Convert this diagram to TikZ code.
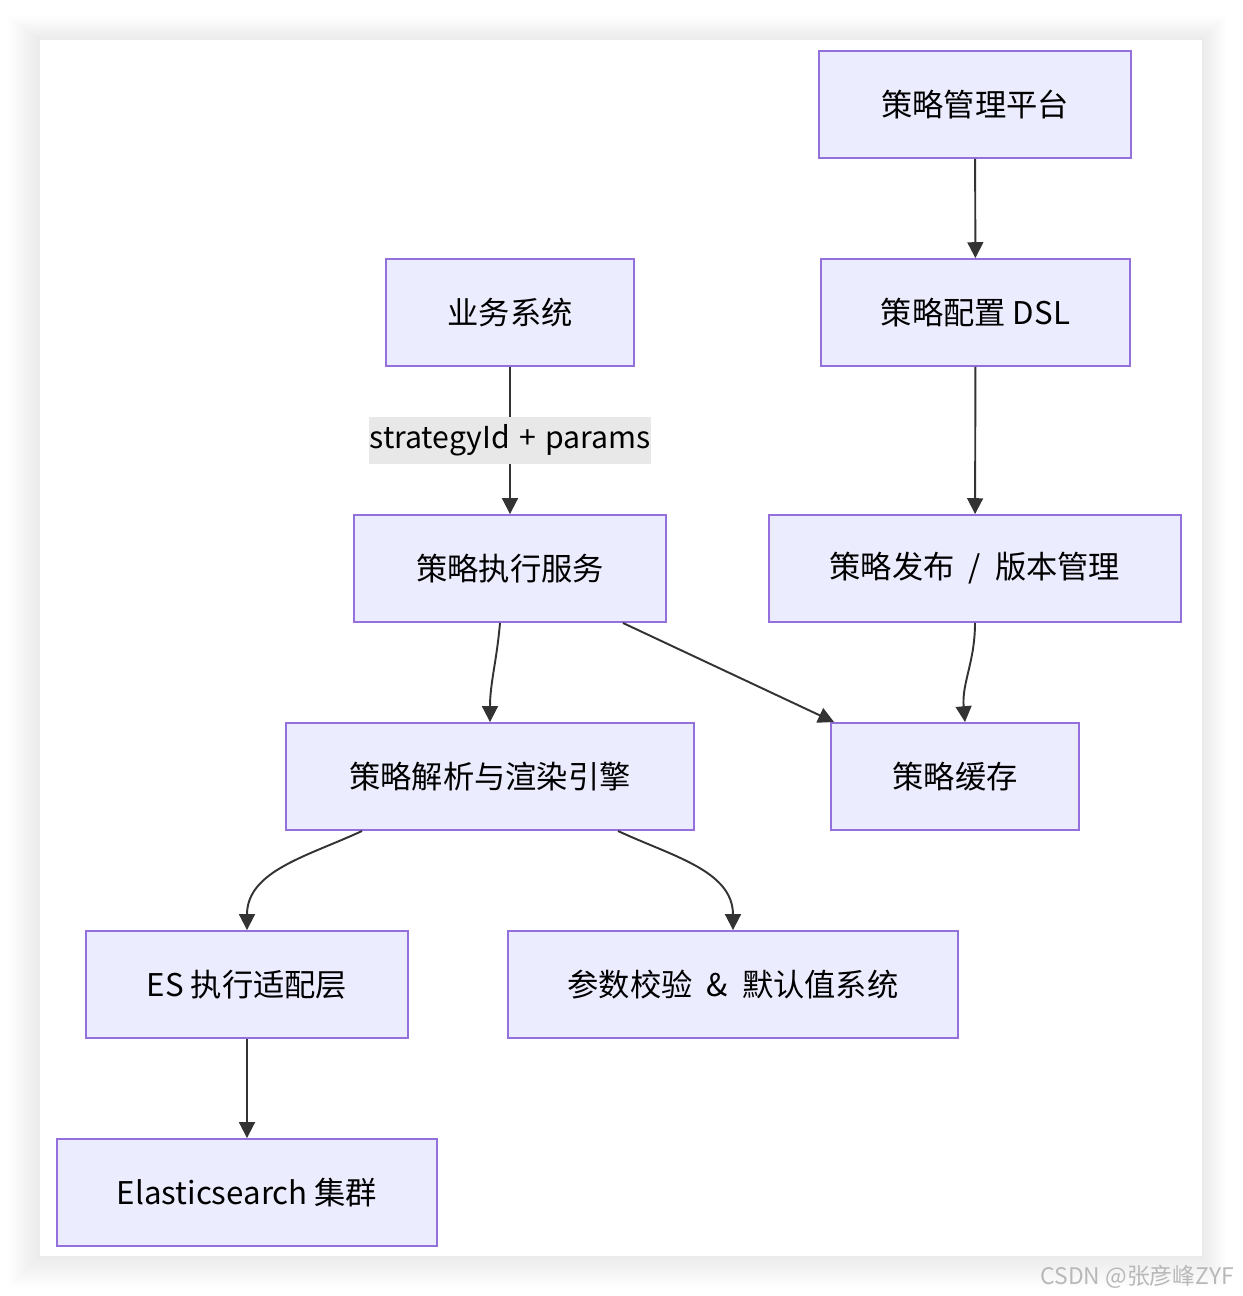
\documentclass[tikz,border=0pt]{standalone}
\usepackage{fontspec}
\setmainfont{Noto Sans CJK SC}
\usetikzlibrary{arrows.meta,positioning}
\definecolor{boxfill}{HTML}{ECECFF}
\definecolor{boxline}{HTML}{9370DB}
\definecolor{edge}{HTML}{333333}
\definecolor{labelbg}{HTML}{E8E8E8}
\newcommand{\gap}{\hspace{0.45em}}
\tikzset{
  box/.style={draw=boxline, fill=boxfill, line width=1.1pt, minimum height=2.14cm,
    inner sep=0pt, font=\fontsize{17.8}{21}\selectfont},
  flow/.style={draw=edge, line width=1.1pt, -{Triangle[length=9pt,width=9pt]}},
}

\begin{document}
\begin{tikzpicture}[x=0.02cm, y=-0.02cm]
        \useasboundingbox (0,0) rectangle (1242,1296);
        % frame with soft shadow
        \foreach \i in {1,...,20}
        \fill[black, opacity=0.005] (40-\i*1.6,40-\i*1.2) rectangle (1202+\i*1.2,1256+\i*1.6);
        \fill[white] (40,40) rectangle (1202,1256);

        % boxes
        \node[box, minimum width=6.24cm] (platform) at (975,104.5) {策略管理平台};
        \node[box, minimum width=4.96cm] (business) at (510,312.5) {业务系统};
        \node[box, minimum width=6.18cm] (dsl) at (975.5,312.5) {策略配置 DSL};
        \node[box, minimum width=6.24cm] (exec) at (510,568.5) {策略执行服务};
        \node[box, minimum width=8.24cm] (publish) at (975,568.5) {策略发布\gap{}/\gap{}版本管理};
        \node[box, minimum width=8.16cm] (engine) at (490,776.5) {策略解析与渲染引擎};
        \node[box, minimum width=4.96cm] (cache) at (955,776.5) {策略缓存};
        \node[box, minimum width=6.44cm] (adapter) at (247,984.5) {ES 执行适配层};
        \node[box, minimum width=9.00cm] (params) at (733,984.5) {参数校验\gap{}\&\gap{}默认值系统};
        \node[box, minimum width=7.60cm] (cluster) at (247,1192.5) {Elasticsearch 集群};

        % connectors
        \draw[flow] (platform) -- (dsl);
        \draw[flow] (business) -- node[fill=labelbg, inner sep=0.5pt, minimum height=0.94cm,
          font=\fontsize{17.2}{20}\selectfont] (arg) {strategyId\hspace{0.3em}+\hspace{0.3em}params} (exec);
        \draw[flow] (dsl) -- (publish);
        \draw[flow] ([xshift=-0.2cm]exec.south) to[out=-95,in=90] (engine.north);
        \draw[flow] ([xshift=-0.88cm]exec.south east) -- ([xshift=0.08cm]cache.north west);
        \draw[flow] (publish.south) to[out=-90,in=95] ([xshift=0.2cm]cache.north);
        \draw[flow] ([xshift=1.54cm]engine.south west) to[out=-155,in=90] (adapter.north);
        \draw[flow] ([xshift=-1.54cm]engine.south east) to[out=-25,in=90] (params.north);
        \draw[flow] (adapter) -- (cluster);

        % watermark
        \node[anchor=east, text=black!28, font=\fontsize{13}{15}\selectfont] (mark) at (1240,1277) {CSDN @张彦峰ZYF};
    \end{tikzpicture}
\end{document}
